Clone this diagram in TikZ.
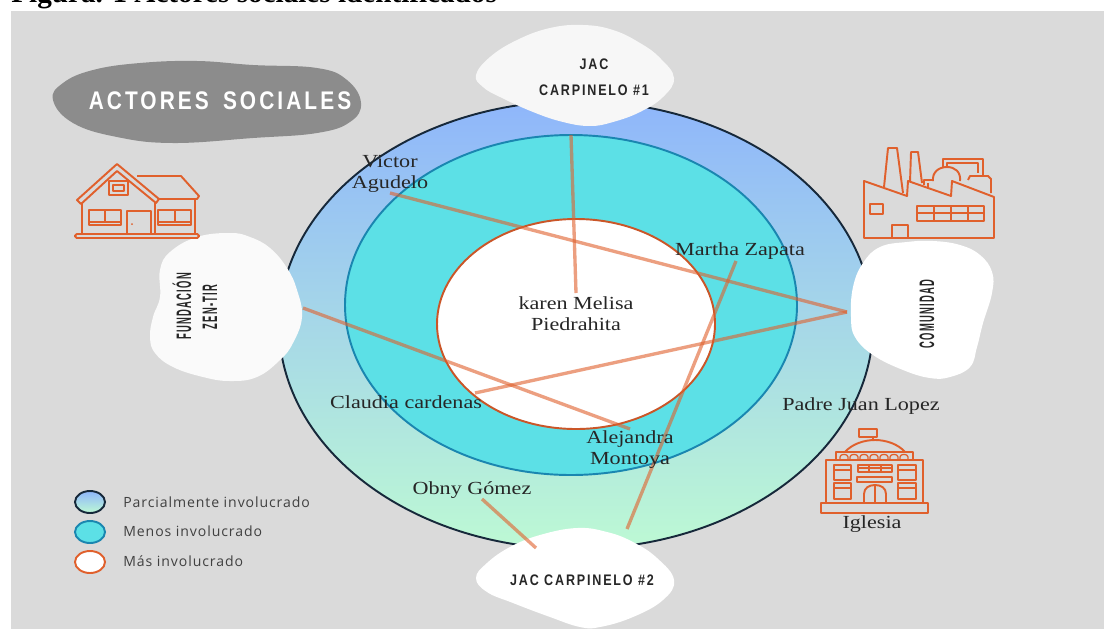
\documentclass[tikz,border=0pt]{standalone}
\usepackage{fontspec}
\usepackage{xcolor}
\setmainfont{Liberation Serif}
\newfontfamily\capsfont[FakeStretch=0.82,LetterSpace=12]{Liberation Sans}
\newfontfamily\tallfont[FakeStretch=0.45,LetterSpace=6]{Liberation Sans}
\newfontfamily\actorfont[FakeStretch=1.2]{Liberation Serif}
\newfontfamily\legendfont[LetterSpace=6.5]{Open Sans}
\usetikzlibrary{positioning,calc}
\definecolor{fondo}{HTML}{DADADA}
\definecolor{naranja}{HTML}{E0602C}
\definecolor{cian}{HTML}{5CE0E6}
\definecolor{azul}{HTML}{1A86B0}
\definecolor{oscuro}{HTML}{16283A}
\definecolor{cielo}{HTML}{8FB6FB}
\definecolor{menta}{HTML}{BDF9D4}
\tikzset{
    blob/.style={fill=#1, draw=none},
    icono/.style={draw=naranja, line width=1.1pt, line join=round, fill=none},
    enlace/.style={draw=naranja, line width=1.9pt, opacity=0.6},
    actor/.style={font=\actorfont\fontsize{10.5}{12}\selectfont, text=black!85, align=center, inner sep=0pt},
    grupo/.style={font=\capsfont\bfseries\fontsize{8.7}{12}\selectfont, text=black!85, align=center, inner sep=0pt},
    grupoalto/.style={font=\tallfont\bfseries\fontsize{11.9}{14}\selectfont, text=black!85, align=center, inner sep=0pt, rotate=90},
    leyenda/.style={font=\legendfont\fontsize{8}{10}\selectfont, text=black!75, anchor=west, inner sep=0pt}
}
\begin{document}
\begin{tikzpicture}[x=0.02cm, y=-0.02cm]
    \useasboundingbox (0,0) rectangle (1104,629);
    \fill [fondo] (11,11) rectangle (1104,629);
    \node [anchor=base west, inner sep=0pt, font=\bfseries\fontsize{16.6}{18}\selectfont] (caption) at (11,2) {Figura. 1 Actores sociales identificados};

    % Circles
    \draw [oscuro, line width=1.1pt, top color=cielo, bottom color=menta] (576,325) ellipse (297 and 224);
    \draw [azul, line width=1.1pt, fill=cian] (571,305) ellipse (226 and 170);
    \draw [naranja!90!black, line width=1.1pt, fill=white] (576,324) ellipse (139 and 105);

    % Title
    \fill [blob={black!45}] plot [smooth cycle, tension=0.7] coordinates {(53,100) (63,83) (93,70) (140,63) (197,61) (253,65) (317,68) (347,80) (361,103) (350,122) (317,133) (253,138) (173,143) (117,137) (73,123)};
    \node [font=\capsfont\bfseries\fontsize{14.5}{16}\selectfont, text=white, inner sep=0pt] (titulo) at (220,101) {ACTORES\hspace{3pt} SOCIALES};

    % Blobs
    \fill [blob={white!97!black}] plot [smooth cycle, tension=0.7] coordinates {(476,75) (490,57) (517,40) (550,28) (583,25) (613,30) (640,43) (660,58) (674,78) (663,97) (640,112) (613,122) (590,126) (563,122) (533,112) (500,97) (483,87)};
    \fill [blob=white] plot [smooth cycle, tension=0.7] coordinates {(476,578) (487,563) (510,547) (540,535) (577,528) (607,532) (633,542) (657,558) (674,580) (663,600) (633,617) (600,627) (580,627) (550,617) (513,603) (487,592)};
    \fill [blob={white!98!black}] plot [smooth cycle, tension=0.7] coordinates {(230,233) (197,237) (170,252) (160,270) (160,297) (153,317) (150,337) (155,353) (173,367) (203,377) (230,381) (257,377) (280,360) (293,343) (302,317) (297,290) (287,268) (270,248) (250,237)};
    \fill [blob=white] plot [smooth cycle, tension=0.7] coordinates {(863,263) (880,247) (907,242) (933,241) (960,245) (980,255) (992,272) (992,293) (983,323) (977,347) (970,367) (950,377) (930,378) (903,370) (873,355) (855,337) (851,317) (853,287)};
    \node [grupo] (jacuno) at (594,77) {JAC\\[3pt]CARPINELO \#1};
    \node [grupo] (jacdos) at (582,580) {JAC CARPINELO \#2};
    \node [grupoalto] (fundacion) at (182,306) {FUNDACIÓN};
    \node [grupoalto] (zentir) at (210,307) {ZEN-TIR};
    \node [grupoalto] (comunidad) at (927,314) {COMUNIDAD};

    % Connector ends
    \coordinate (jacunoEnd) at (571,135);
    \coordinate (karenEnd) at (576,293);
    \coordinate (victorEnd) at (390,193);
    \coordinate (comunidadEnd) at (847,312);
    \coordinate (claudiaEnd) at (475,393);
    \coordinate (fundacionEnd) at (303,308);
    \coordinate (alejandraEnd) at (630,429);
    \coordinate (marthaEnd) at (736,261);
    \coordinate (jacdosEndA) at (627,529);
    \coordinate (obnyEnd) at (482,499);
    \coordinate (jacdosEndB) at (536,548);
    \draw [enlace] (jacunoEnd) -- (karenEnd);
    \draw [enlace] (victorEnd) -- (comunidadEnd);
    \draw [enlace] (comunidadEnd) -- (claudiaEnd);
    \draw [enlace] (fundacionEnd) -- (alejandraEnd);
    \draw [enlace] (marthaEnd) -- (jacdosEndA);
    \draw [enlace] (obnyEnd) -- (jacdosEndB);

    % Actors
    \node [actor] (victor) at (390,174) {Victor\\Agudelo};
    \node [actor] (karen) at (576,314) {karen Melisa\\Piedrahita};
    \node [actor] (martha) at (740,251) {Martha Zapata};
    \node [actor] (claudia) at (406,402) {Claudia cardenas};
    \node [actor] (alejandra) at (630,450) {Alejandra\\Montoya};
    \node [actor] (obny) at (472,490) {Obny Gómez};
    \node [actor] (padre) at (861,406) {Padre Juan Lopez};
    \node [actor] (iglesia) at (872,524) {Iglesia};

    % House
    \draw [icono] (77,200) -- (117,164) -- (159,199) -- (156,203) -- (117,171) -- (81,204) -- cycle;
    \draw [icono] (82,203) -- (82,234) (155,203) -- (155,234) (195,199) -- (195,234);
    \draw [icono] (137,176) -- (181,176) -- (199,196) -- (197,199) -- (158,199);
    \draw [icono, rounded corners=1pt] (75,234) rectangle (199,238);
    \draw [icono] (109,181) rectangle (128,195) (113,185) rectangle (124,191);
    \draw [icono] (89,210) rectangle (121,225) (105,210) -- (105,222) (89,222) -- (121,222);
    \draw [icono] (127,211) rectangle (151,234);
    \draw [icono] (158,210) rectangle (191,225) (175,210) -- (175,222) (158,222) -- (191,222);
    \fill [naranja] (132,224) circle (1);

    % Factory
    \draw [icono] (864,181) -- (864,238) -- (994,238) -- (994,197) -- (952,181) -- (951,196) -- (908,181) -- (907,196) -- cycle;
    \draw [icono] (884,187) -- (888,148) -- (897,148) -- (903,193);
    \draw [icono] (910,182) -- (911,152) -- (918,152) -- (922,183);
    \draw [icono] (870,204) rectangle (883,214);
    \draw [icono] (917,206) rectangle (984,221) (917,213) -- (984,213) (934,206) -- (934,221) (951,206) -- (951,221) (968,206) -- (968,221);
    \draw [icono] (892,238) -- (892,225) -- (908,225) -- (908,238);
    \draw [icono] (943,168) -- (943,159) -- (983,159) -- (983,175);
    \draw [icono] (947,167) -- (947,163) -- (978,163) -- (978,173);
    \draw [icono] (933,181) .. controls (932,172) and (939,167) .. (947,167) .. controls (955,167) and (961,172) .. (960,181);
    \draw [icono] (968,180) -- (970,176) -- (988,176) -- (991,179) -- (991,193);
    \draw [icono] (924,185) -- (924,180) -- (933,180) (928,183) -- (928,189);

    % Church
    \draw [icono] (859,429) rectangle (877,437) (873,437) -- (873,441);
    \draw [icono] (845,452) .. controls (852,444) and (864,440) .. (875,440) .. controls (886,440) and (898,444) .. (905,452);
    \draw [icono] (836,452) rectangle (913,460);
    \foreach \xa in {840,850,860,870,880,890,900} {
        \draw [icono, line width=0.7pt] (\xa,460) -- (\xa,457) .. controls (\xa,453.5) and (\xa+8,453.5) .. (\xa+8,457) -- (\xa+8,460);
    }
    \draw [icono] (826,460) rectangle (923,503);
    \draw [icono] (821,503) rectangle (928,513);
    \draw [icono] (834,465) rectangle (851,480) (834,470) -- (851,470);
    \draw [icono] (834,483) rectangle (851,499) (834,488) -- (851,488);
    \draw [icono] (898,465) rectangle (916,480) (898,470) -- (916,470);
    \draw [icono] (898,483) rectangle (916,499) (898,488) -- (916,488);
    \draw [icono] (858,465) rectangle (892,472) (858,468) -- (892,468) (869,465) -- (869,472) (881,465) -- (881,472);
    \draw [icono] (857,477) rectangle (892,482);
    \draw [icono] (864,503) -- (864,494) .. controls (864,488) and (869,485) .. (875,485) .. controls (881,485) and (886,488) .. (886,494) -- (886,503) (875,485) -- (875,503);

    % Legend
    \draw [oscuro, line width=1.1pt, top color=cielo, bottom color=menta] (90,502) ellipse (15 and 11);
    \draw [azul, line width=1.1pt, fill=cian] (90,532) ellipse (15 and 11);
    \draw [naranja, line width=1.1pt, fill=white] (90,562) ellipse (15 and 11);
    \node [leyenda] (parcial) at (123,502) {Parcialmente involucrado};
    \node [leyenda] (menos) at (123,531) {Menos involucrado};
    \node [leyenda] (mas) at (123,561) {Más involucrado};
\end{tikzpicture}
\end{document}
